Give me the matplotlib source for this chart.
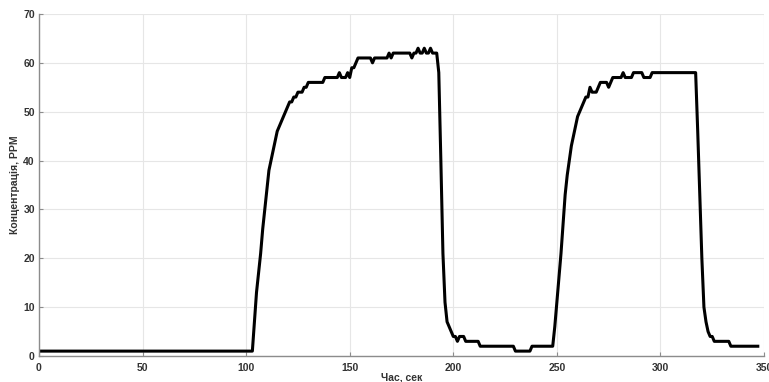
import matplotlib
matplotlib.use('Agg')
import matplotlib.pyplot as plt

# gas concentration record (time in s, value in PPM)
t_sec = [0, 103, 104, 105, 106, 107, 108, 109, 110, 111, 112, 113, 114, 115,
         116, 117, 118, 119, 120, 121, 122, 123, 124, 125, 126, 127, 128, 129,
         130, 137, 138, 144, 145, 146, 147, 148, 149, 150, 151, 152, 153, 154,
         160, 161, 162, 168, 169, 170, 171, 179, 180, 181, 182, 183, 184, 185,
         186, 187, 188, 189, 190, 192, 193, 194, 195, 196, 197, 198, 199, 200,
         201, 202, 203, 204, 205, 206, 212, 213, 229, 230, 237, 238, 248, 249,
         250, 251, 252, 253, 254, 255, 256, 257, 258, 259, 260, 261, 262, 263,
         264, 265, 266, 267, 268, 269, 270, 271, 272, 274, 275, 276, 277, 281,
         282, 283, 284, 286, 287, 291, 292, 295, 296, 317, 318, 319, 320, 321,
         322, 323, 324, 325, 326, 333, 334, 347]
ppm = [1, 1, 7, 13, 17, 21, 26, 30, 34, 38, 40, 42, 44, 46,
       47, 48, 49, 50, 51, 52, 52, 53, 53, 54, 54, 54, 55, 55,
       56, 56, 57, 57, 58, 57, 57, 57, 58, 57, 59, 59, 60, 61,
       61, 60, 61, 61, 62, 61, 62, 62, 61, 62, 62, 63, 62, 62,
       63, 62, 62, 63, 62, 62, 58, 40, 21, 11, 7, 6, 5, 4,
       4, 3, 4, 4, 4, 3, 3, 2, 2, 1, 1, 2, 2, 6,
       11, 16, 21, 27, 33, 37, 40, 43, 45, 47, 49, 50, 51, 52,
       53, 53, 55, 54, 54, 54, 55, 56, 56, 56, 55, 56, 57, 57,
       58, 57, 57, 57, 58, 58, 57, 57, 58, 58, 46, 33, 20, 10,
       7, 5, 4, 4, 3, 3, 2, 2]

x_ticks = [0, 50, 100, 150, 200, 250, 300, 350]
y_ticks = [0, 10, 20, 30, 40, 50, 60, 70]

plt.rcParams['font.family'] = ['Liberation Sans', 'DejaVu Sans']

fig = plt.figure(figsize=(7.69, 3.82), dpi=100)
ax = fig.add_axes([39 / 769, 1 - 356 / 382, 725 / 769, 342 / 382])

ax.plot(t_sec, ppm, color='black', lw=2.2, solid_joinstyle='round')

ax.set_xlim(0, 350)
ax.set_ylim(0, 70)
ax.set_xticks(x_ticks)
ax.set_yticks(y_ticks)
ax.grid(True, color='#e6e6e6', lw=0.8)
ax.set_axisbelow(True)

for s in ['top', 'right']:
    ax.spines[s].set_visible(False)
for s in ['left', 'bottom']:
    ax.spines[s].set_color('#8c8c8c')
    ax.spines[s].set_linewidth(1.0)

ax.tick_params(direction='in', length=3, width=0.8, color='#8c8c8c',
               labelsize=7.5, labelcolor='#333333', pad=5)
ax.tick_params(axis='y', pad=3)
for lbl in ax.get_xticklabels() + ax.get_yticklabels():
    lbl.set_fontweight('bold')

ax.set_xlabel('Час, сек', fontsize=7.5, fontweight='bold', color='#333333', labelpad=0)
ax.set_ylabel('Концентрація, PPM', fontsize=7.5, fontweight='bold', color='#333333', labelpad=2)

plt.savefig('out.png', dpi=100)
plt.close()
